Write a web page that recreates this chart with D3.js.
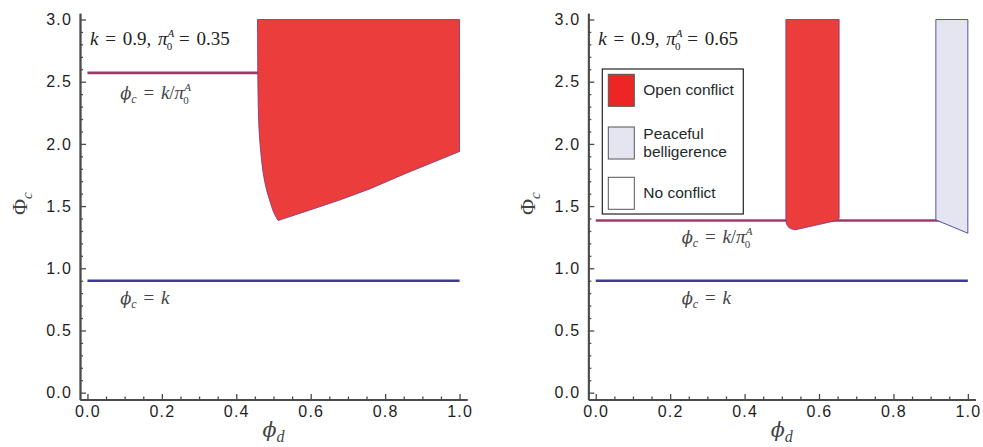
<!DOCTYPE html>
<html>
<head>
<meta charset="utf-8">
<script src="https://cdn.jsdelivr.net/npm/d3@7"></script>
<style>
  body { margin: 0; background: #fff; }
  svg { display: block; }
</style>
</head>
<body>
<div id="chart-container"></div>
<script>
const k = 0.9
const pi0Values = [0.35, 0.65]

const xMajorTicks = [0, 0.2, 0.4, 0.6, 0.8, 1.0]
const yMajorTicks = [0, 0.5, 1.0, 1.5, 2.0, 2.5, 3.0]

// left panel, open conflict region boundary (phi_d, Phi_c)
const leftConflictPhiD = [0.457, 0.458, 0.4607, 0.4652, 0.4723, 0.4813, 0.492, 0.5036, 0.5125, 0.6, 0.678, 0.76, 0.857, 1.0, 1.0]
const leftConflictPhiC = [3.0, 2.5, 2.139, 1.953, 1.765, 1.631, 1.524, 1.43, 1.384, 1.471, 1.549, 1.64, 1.765, 1.939, 3.0]

// right panel, open conflict band
const rightConflictPhiD = [0.511, 0.511, 0.514, 0.523, 0.536, 0.648, 0.654, 0.654]
const rightConflictPhiC = [3.0, 1.385, 1.349, 1.32, 1.309, 1.385, 1.4, 3.0]

// right panel, peaceful belligerence band
const rightPeacePhiD = [0.914, 0.914, 1.0, 1.0]
const rightPeacePhiC = [3.0, 1.389, 1.282, 3.0]

const legendLabels = [['Open conflict'], ['Peaceful', 'belligerence'], ['No conflict']]
const legendColors = ['#ec2525', '#e5e5f1', '#ffffff']

const width = 983
const height = 447
const conflictColor = '#ec3d3d'
const peaceColor = '#e5e5f1'
const axisColor = '#4a4a4a'
const serif = 'DejaVu Serif, Liberation Serif, serif'
const serif2 = 'Liberation Serif, Times New Roman, serif'

const svg = d3
  .select('#chart-container')
  .append('svg')
  .attr('width', width)
  .attr('height', height)

function zipPts(xs, ys) {
  return xs.map((x, i) => [x, ys[i]])
}

// phi glyph (straight-stroke form) in italic with a subscript
function phiWithSub(text, sub, size, subSize, drop) {
  text.append('tspan').attr('font-family', serif).attr('font-style', 'italic').attr('font-size', size * 0.86).text('ϕ')
  text.append('tspan').attr('font-style', 'italic').attr('font-size', subSize).attr('dy', drop).text(sub)
}

// pi with stacked A superscript and 0 subscript
function piSupSub(text) {
  text.append('tspan').attr('font-style', 'italic').text('π')
  text.append('tspan').attr('font-size', 11).attr('font-style', 'italic').attr('dy', -8).text('A')
  text.append('tspan').attr('font-size', 11).attr('dx', -7.5).attr('dy', 13).text('0')
}

function drawPanel({ left, pi0, regions, annPos, showLegend }) {
  const g = svg.append('g')

  const x = d3.scaleLinear().domain([-0.02, 1.02]).range([left, left + 387])
  const y = d3.scaleLinear().domain([-0.055, 3.05]).range([399.5, 13.3])

  // reference lines
  const lineGen = d3.line().x(d => x(d[0])).y(d => y(d[1]))
  g.append('path')
    .attr('d', lineGen([[0, k / pi0], [1, k / pi0]]))
    .attr('stroke', '#9b3b6c')
    .attr('stroke-width', 2.6)
    .attr('fill', 'none')
  g.append('path')
    .attr('d', lineGen([[0, k], [1, k]]))
    .attr('stroke', '#3c3c98')
    .attr('stroke-width', 2.6)
    .attr('fill', 'none')

  // regions
  const curveGen = d3.line().x(d => x(d[0])).y(d => y(d[1])).curve(d3.curveMonotoneY)
  regions.forEach(r => {
    const pts = zipPts(r.xs, r.ys)
    g.append('path')
      .attr('d', curveGen(pts.slice(0, r.curveEnd)) +
        lineGen(pts.slice(r.curveEnd - 1)).replace('M', 'L') + 'Z')
      .attr('fill', r.fill)
      .attr('stroke', r.stroke)
      .attr('stroke-width', 0.9)
  })

  // axes
  const styleAxis = sel => {
    sel.select('.domain').attr('stroke', axisColor).attr('stroke-width', 1.8)
    sel.selectAll('.tick line').attr('stroke', axisColor).attr('stroke-width', 1.3)
    sel.selectAll('.tick text')
      .attr('fill', '#1e1e1e')
      .attr('font-family', 'Liberation Sans, Arial, sans-serif')
      .attr('font-size', 16)
      .attr('letter-spacing', 1.2)
  }

  const xMinor = d3.range(0, 1.0001, 0.05).filter(v => !xMajorTicks.some(t => Math.abs(t - v) < 1e-6))
  const yMinor = d3.range(0, 3.0001, 0.1).filter(v => !yMajorTicks.some(t => Math.abs(t - v) < 1e-6))

  g.append('g')
    .attr('transform', `translate(0, ${y.range()[0]})`)
    .call(d3.axisBottom(x).tickValues(xMinor).tickSizeInner(-3).tickSizeOuter(0).tickFormat(''))
    .call(styleAxis)
  g.append('g')
    .attr('transform', `translate(0, ${y.range()[0]})`)
    .call(d3.axisBottom(x).tickValues(xMajorTicks).tickSizeInner(-5.5).tickSizeOuter(0).tickPadding(6).tickFormat(d3.format('.1f')))
    .call(styleAxis)

  g.append('g')
    .attr('transform', `translate(${x.range()[0]}, 0)`)
    .call(d3.axisLeft(y).tickValues(yMinor).tickSizeInner(-3).tickSizeOuter(0).tickFormat(''))
    .call(styleAxis)
  g.append('g')
    .attr('transform', `translate(${x.range()[0]}, 0)`)
    .call(d3.axisLeft(y).tickValues(yMajorTicks).tickSizeInner(-6).tickSizeOuter(0).tickPadding(8).tickFormat(d3.format('.1f')))
    .call(styleAxis)

  // axis titles
  const xt = g.append('text')
    .attr('x', x(0.5))
    .attr('y', 437)
    .attr('text-anchor', 'middle')
    .attr('font-family', serif2)
    .attr('font-size', 22)
    .attr('fill', '#444')
  phiWithSub(xt, 'd', 24, 16, 5)

  const yt = g.append('text')
    .attr('transform', `translate(${left - 53}, ${y(1.52)}) rotate(-90)`)
    .attr('text-anchor', 'middle')
    .attr('font-family', serif2)
    .attr('font-size', 22)
    .attr('fill', '#444')
  yt.append('tspan').text('Φ')
  yt.append('tspan').attr('font-style', 'italic').attr('font-size', 15).attr('dy', 5).text('c')

  // parameter annotation
  const pt = g.append('text')
    .attr('x', left + 10)
    .attr('y', 45)
    .attr('font-family', serif2)
    .attr('font-size', 19)
    .attr('word-spacing', 2)
    .attr('fill', '#222')
  pt.append('tspan').attr('font-style', 'italic').text('k')
  pt.append('tspan').text(' = 0.9, ')
  piSupSub(pt)
  pt.append('tspan').attr('dy', -5).text(' = ' + pi0.toFixed(2))

  // line labels
  const l1 = g.append('text')
    .attr('x', x(annPos[0][0]))
    .attr('y', y(annPos[0][1]))
    .attr('font-family', serif2)
    .attr('font-size', 19)
    .attr('word-spacing', 2)
    .attr('fill', '#444')
  phiWithSub(l1, 'c', 19, 12, 4)
  l1.append('tspan').attr('dy', -4).text(' = ')
  l1.append('tspan').attr('font-style', 'italic').text('k')
  l1.append('tspan').text('/')
  piSupSub(l1)

  const l2 = g.append('text')
    .attr('x', x(annPos[1][0]))
    .attr('y', y(annPos[1][1]))
    .attr('font-family', serif2)
    .attr('font-size', 19)
    .attr('word-spacing', 2)
    .attr('fill', '#444')
  phiWithSub(l2, 'c', 19, 12, 4)
  l2.append('tspan').attr('dy', -4).text(' = ')
  l2.append('tspan').attr('font-style', 'italic').text('k')

  if (showLegend) {
    const lg = g.append('g').attr('transform', `translate(${left + 14}, 69)`)
    lg.append('rect')
      .attr('width', 141)
      .attr('height', 145)
      .attr('fill', '#fff')
      .attr('stroke', '#222')
      .attr('stroke-width', 1.2)
    const rowY = [5.3, 58, 108.3]
    legendLabels.forEach((lines, i) => {
      lg.append('rect')
        .attr('x', 6)
        .attr('y', rowY[i])
        .attr('width', 26)
        .attr('height', 32)
        .attr('fill', legendColors[i])
        .attr('stroke', '#555')
        .attr('stroke-width', 1)
      const t = lg.append('text')
        .attr('font-family', 'Liberation Sans, Arial, sans-serif')
        .attr('font-size', 15.5)
        .attr('fill', '#1e2a2a')
      lines.forEach((ln, j) => {
        t.append('tspan')
          .attr('x', 41)
          .attr('y', rowY[i] + 16 + (lines.length === 1 ? 5 : -4 + j * 18))
          .text(ln)
      })
    })
  }
}

drawPanel({
  left: 80,
  pi0: pi0Values[0],
  regions: [
    { xs: leftConflictPhiD, ys: leftConflictPhiC, curveEnd: 9, fill: conflictColor, stroke: '#8a3a7a' },
  ],
  annPos: [[0.088, 2.36], [0.088, 0.71]],
  showLegend: false,
})

drawPanel({
  left: 588.3,
  pi0: pi0Values[1],
  regions: [
    { xs: rightConflictPhiD, ys: rightConflictPhiC, curveEnd: 5, fill: conflictColor, stroke: '#8a3a7a' },
    { xs: rightPeacePhiD, ys: rightPeacePhiC, curveEnd: 2, fill: peaceColor, stroke: '#4040a0' },
  ],
  annPos: [[0.231, 1.2], [0.231, 0.71]],
  showLegend: true,
})
</script>
</body>
</html>
